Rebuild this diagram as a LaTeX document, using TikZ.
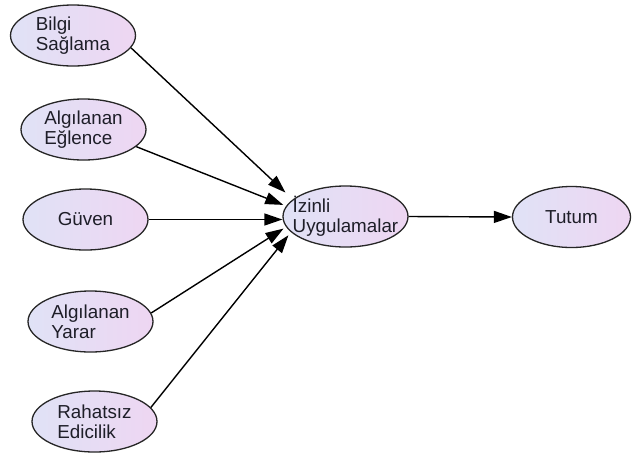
\documentclass[tikz,border=0pt]{standalone}
\usepackage{fontspec}
\setmainfont{Liberation Sans}
\usetikzlibrary{shapes.geometric,arrows.meta}
\definecolor{ellL}{RGB}{224,226,246}
\definecolor{ellR}{RGB}{238,214,242}
\definecolor{txtc}{RGB}{30,30,40}
\tikzset{
  ell/.style={ellipse, draw=black!85, line width=1.3pt, left color=ellL, right color=ellR,
    minimum width=125pt, minimum height=61pt, inner sep=0pt},
  lbl/.style={align=left, font=\fontsize{18.8}{20}\selectfont, text=txtc, inner sep=0pt},
  arr/.style={-{Triangle[length=18pt,width=12pt]}, line width=1.4pt, black}
}
\begin{document}
\begin{tikzpicture}[x=1pt,y=-1pt]
\useasboundingbox[fill=white] (0,0) rectangle (632,456);
\node[ell] (bilgi) at (73,35.5) {};
\node[lbl] (bilgi-t) at (bilgi.center) {Bilgi\\Sağlama};
\node[ell] (eglence) at (83.5,129.5) {};
\node[lbl] (eglence-t) at (eglence.center) {Algılanan\\Eğlence};
\node[ell] (guven) at (85.5,219.5) {};
\node[lbl] (guven-t) at (guven.center) {Güven};
\node[ell] (yarar) at (90.5,321.5) {};
\node[lbl] (yarar-t) at (yarar.center) {Algılanan\\Yarar};
\node[ell] (rahatsiz) at (94.5,421.5) {};
\node[lbl] (rahatsiz-t) at (rahatsiz.center) {Rahatsız\\Edicilik};
\node[ell] (izinli) at (345.5,216.5) {};
\node[lbl] (izinli-t) at (izinli.center) {İzinli\\Uygulamalar};
\node[ell, minimum width=118pt] (tutum) at (571.5,217) {};
\node[lbl] (tutum-t) at (tutum.center) {Tutum};
\draw[arr, shorten >=10pt] (bilgi.-12) -- (izinli.162);
\draw[arr, shorten >=3pt] (eglence.-18) -- (izinli.170);
\draw[arr] (guven.east) -- (guven.east -| izinli.west);
\draw[arr, shorten >=3pt] (yarar.8) -- (izinli.-170);
\draw[arr, shorten >=4pt] (rahatsiz.14) -- (izinli.-164);
\draw[arr] (izinli.east) -- (tutum.west);
\end{tikzpicture}
\end{document}
